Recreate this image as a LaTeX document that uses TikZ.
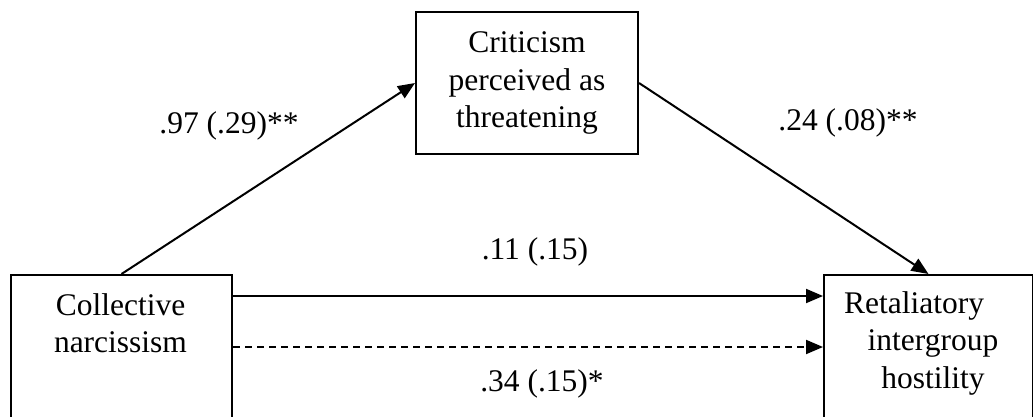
\documentclass[tikz,border=0pt]{standalone}
\usepackage{fontspec}
\setmainfont{Liberation Serif}
\usetikzlibrary{arrows.meta,positioning}

\begin{document}
\begin{tikzpicture}[x=1pt,y=-1pt,
  box/.style={draw,line width=2pt,inner sep=0pt},
  txt/.style={align=center,inner sep=0pt,font=\fontsize{31.5}{37.5}\selectfont},
  path/.style={line width=2pt,-{Triangle[length=17pt,width=14pt]}}]
\useasboundingbox (0,0) rectangle (1033,417);
\clip (0,0) rectangle (1033,417);
% boxes
\node[box,anchor=north west,minimum width=221pt,minimum height=170pt] (coll) at (10,274) {};
\node[box,anchor=north west,minimum width=209pt,minimum height=170pt] (retal) at (823,274) {};
\node[box,txt,minimum width=222pt,minimum height=142pt] (crit) at (527,83) {Criticism\\perceived as\\threatening};
\node[txt] (collt) at (120.5,323) {Collective\\narcissism};
\node[txt] (retalt) at (933,343) {Retaliatory\hspace*{38pt}\\intergroup\\hostility};
% paths
\draw[path] (coll.north) -- (crit.west);
\draw[path] (crit.east) -- (retal.north);
\draw[path] ([yshift=-22pt]coll.north east) -- ([yshift=-22pt]retal.north west);
\draw[path,dash pattern=on 7pt off 5pt] ([yshift=-73pt]coll.north east) -- ([yshift=-73pt]retal.north west);
% coefficients
\node[txt] (a) at (229,126) {.97 (.29)**};
\node[txt] (b) at (848,123) {.24 (.08)**};
\node[txt] (c) at (535,252) {.11 (.15)};
\node[txt] (cp) at (542,384) {.34 (.15)*};
\end{tikzpicture}
\end{document}
